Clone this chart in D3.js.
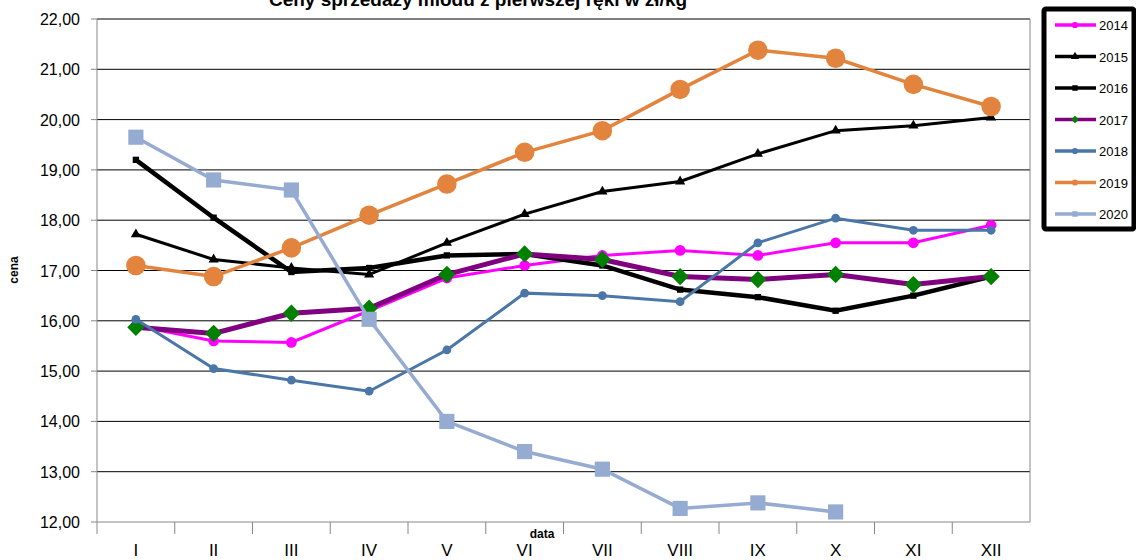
<!DOCTYPE html><html><head><meta charset="utf-8"><script src="https://cdn.jsdelivr.net/npm/d3@7"></script>
<style>body{margin:0;background:#fff}text{font-family:Arial,"Liberation Sans",sans-serif}</style></head><body><svg id="c" width="1136" height="560"></svg><script>
const months=["I","II","III","IV","V","VI","VII","VIII","IX","X","XI","XII"];
const yTicks=[12,13,14,15,16,17,18,19,20,21,22];
const s2014=[15.9,15.6,15.57,16.2,16.85,17.1,17.3,17.4,17.3,17.55,17.55,17.9];
const s2015=[17.72,17.22,17.05,16.92,17.55,18.12,18.57,18.77,19.32,19.78,19.88,20.04];
const s2016=[19.2,18.05,16.97,17.05,17.3,17.33,17.1,16.62,16.47,16.2,16.5,16.88];
const s2017=[15.87,15.75,16.15,16.25,16.92,17.33,17.22,16.88,16.82,16.92,16.72,16.88];
const s2018=[16.03,15.05,14.82,14.6,15.42,16.55,16.5,16.38,17.55,18.04,17.8,17.8];
const s2019=[17.1,16.88,17.45,18.1,18.72,19.35,19.78,20.6,21.38,21.22,20.7,20.26];
const s2020=[19.65,18.8,18.6,16.03,14.0,13.4,13.05,12.27,12.38,12.2];
const series=[
 {name:"2014",data:s2014,color:"#ff00ff",w:3,sym:"circle",mc:"#ff00ff",sz:90},
 {name:"2015",data:s2015,color:"#000",w:3,sym:"triangle",mc:"#000",sz:45},
 {name:"2016",data:s2016,color:"#000",w:4.5,sym:"square",mc:"#000",sz:40},
 {name:"2017",data:s2017,color:"#800080",w:5,sym:"diamond",mc:"#008000",sz:150},
 {name:"2018",data:s2018,color:"#4a76a8",w:3,sym:"circle",mc:"#4a76a8",sz:60},
 {name:"2019",data:s2019,color:"#e3843e",w:3.5,sym:"circle",mc:"#e3843e",sz:300},
 {name:"2020",data:s2020,color:"#95abd2",w:3.5,sym:"square",mc:"#95abd2",sz:230}];
const svg=d3.select("#c");
const x=d3.scaleBand().domain(months).range([97,1030]);
const y=d3.scaleLinear().domain([12,22]).range([522,19]);
svg.append("text").attr("x",478).attr("y",6).attr("text-anchor","middle").attr("font-size",19).attr("font-weight","bold").text("Ceny sprzedaży miodu z pierwszej ręki w zł/kg");
const g=svg.append("g");
yTicks.forEach(t=>{g.append("line").attr("x1",97).attr("x2",1030).attr("y1",y(t)).attr("y2",y(t)).attr("stroke",t===12?"#888":"#000").attr("stroke-width",1);
 g.append("line").attr("x1",91).attr("x2",97).attr("y1",y(t)).attr("y2",y(t)).attr("stroke","#888");
 g.append("text").attr("x",80).attr("y",y(t)+6).attr("text-anchor","end").attr("font-size",16).text(d3.format(".2f")(t).replace(".",","));});
g.append("line").attr("x1",97).attr("x2",97).attr("y1",19).attr("y2",522).attr("stroke","#888");
g.append("line").attr("x1",1030).attr("x2",1030).attr("y1",19).attr("y2",522).attr("stroke","#888");
months.forEach((m,i)=>{const bx=x(m);
 g.append("line").attr("x1",bx).attr("x2",bx).attr("y1",522).attr("y2",534).attr("stroke","#888");
 g.append("text").attr("x",bx+x.bandwidth()/2).attr("y",556).attr("text-anchor","middle").attr("font-size",17).text(m);});
svg.append("text").attr("transform","translate(18,270) rotate(-90)").attr("text-anchor","middle").attr("font-size",12).attr("font-weight","bold").text("cena");
svg.append("text").attr("x",542).attr("y",538).attr("text-anchor","middle").attr("font-size",12).attr("font-weight","bold").text("data");
const symMap={circle:d3.symbolCircle,triangle:d3.symbolTriangle,diamond:d3.symbolSquare,square:d3.symbolSquare};
const line=d3.line().x((d,i)=>x(months[i])+x.bandwidth()/2).y(d=>y(d));
series.forEach(s=>{
 svg.append("path").attr("d",line(s.data)).attr("fill","none").attr("stroke",s.color).attr("stroke-width",s.w);
 svg.selectAll(null).data(s.data).enter().append("path")
  .attr("transform",(d,i)=>`translate(${x(months[i])+x.bandwidth()/2},${y(d)})`+(s.sym==="diamond"?" rotate(45)":""))
  .attr("d",d3.symbol().type(symMap[s.sym]).size(s.sz)).attr("fill",s.mc);
});
const lg=svg.append("g");
lg.append("rect").attr("x",1044).attr("y",9).attr("width",90).attr("height",220).attr("fill","#fff").attr("stroke","#000").attr("stroke-width",5).attr("rx",2);
series.forEach((s,i)=>{const yy=25+i*31.5;
 lg.append("line").attr("x1",1055).attr("x2",1096).attr("y1",yy).attr("y2",yy).attr("stroke",s.color).attr("stroke-width",3.5);
 lg.append("path").attr("transform",`translate(1075,${yy})`+(s.sym==="diamond"?" rotate(45)":"")).attr("d",d3.symbol().type(symMap[s.sym]).size(30)).attr("fill",s.mc);
 lg.append("text").attr("x",1099).attr("y",yy+5).attr("font-size",13).text(s.name);});
</script></body></html>
